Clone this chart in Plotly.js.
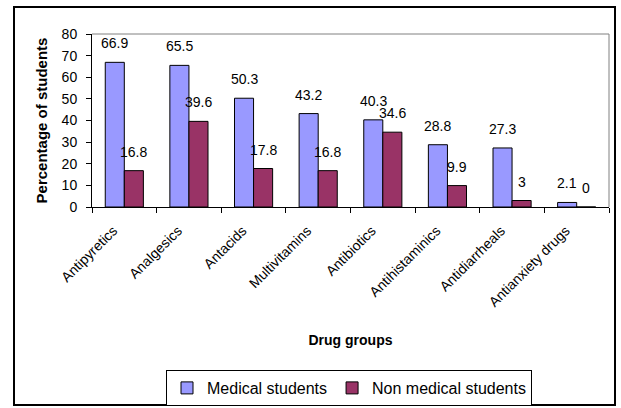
<!DOCTYPE html>
<html>
<head>
<meta charset="utf-8">
<script src="https://cdn.plot.ly/plotly-3.0.1.min.js"></script>
<style>
  html, body { margin: 0; padding: 0; background: #ffffff; }
  #chart { width: 621px; height: 408px; }
</style>
</head>
<body>
<div id="chart"></div>
<script>
// Self-medication by drug group, percentage of students
const drugGroups = ['Antipyretics', 'Analgesics', 'Antacids', 'Multivitamins',
                    'Antibiotics', 'Antihistaminics', 'Antidiarrheals', 'Antianxiety drugs'];
const medicalStudents = [66.9, 65.5, 50.3, 43.2, 40.3, 28.8, 27.3, 2.1];
const nonMedicalStudents = [16.8, 39.6, 17.8, 16.8, 34.6, 9.9, 3, 0];
const seriesNames = ['Medical students', 'Non medical students'];
const yTicks = [0, 10, 20, 30, 40, 50, 60, 70, 80];

const FONT = '"Liberation Sans", Arial, sans-serif';
const BLUE = '#9999FF';
const MAROON = '#993366';

// Plot area geometry (pixels)
const W = 621, H = 408;
const M = { l: 92, r: 12, t: 34, b: 201, autoexpand: false };
const plotW = W - M.l - M.r;
const plotH = H - M.t - M.b;
const px2x = p => (p - M.l) / plotW;
const px2y = p => (H - M.b - p) / plotH;

const bargap = 0.41;
const barPx = plotW / drugGroups.length * (1 - bargap) / 2;

const traces = [
  {
    type: 'bar', name: seriesNames[0], x: drugGroups, y: medicalStudents,
    marker: { color: BLUE, line: { color: '#000000', width: 1 } },
    hoverinfo: 'x+y'
  },
  {
    type: 'bar', name: seriesNames[1], x: drugGroups, y: nonMedicalStudents,
    marker: { color: MAROON, line: { color: '#000000', width: 1 } },
    hoverinfo: 'x+y'
  }
];

// Value labels above each bar
const annotations = [];
[medicalStudents, nonMedicalStudents].forEach((vals, s) => {
  vals.forEach((v, i) => {
    annotations.push({
      x: drugGroups[i], y: v, xref: 'x', yref: 'y',
      text: String(v), showarrow: false,
      xanchor: 'center', yanchor: 'bottom',
      xshift: (s === 0 ? -1 : 1) * barPx / 2,
      yshift: 9,
      font: { family: FONT, size: 14, color: '#000000' }
    });
  });
});

const shapes = [
  // grey frame on top and right of the plot area
  { type: 'line', xref: 'paper', yref: 'paper', x0: 0, x1: 1, y0: 1, y1: 1,
    line: { color: '#808080', width: 1 } },
  { type: 'line', xref: 'paper', yref: 'paper', x0: 1, x1: 1, y0: 0, y1: 1,
    line: { color: '#808080', width: 1 } },
  // outer chart border
  { type: 'rect', xref: 'paper', yref: 'paper',
    x0: px2x(14), x1: px2x(615), y0: px2y(405), y1: px2y(7),
    line: { color: '#000000', width: 2 }, fillcolor: 'rgba(0,0,0,0)' }
];

const layout = {
  width: W, height: H,
  margin: M,
  paper_bgcolor: '#ffffff', plot_bgcolor: '#ffffff',
  font: { family: FONT, size: 14, color: '#000000' },
  barmode: 'group', bargap: bargap, bargroupgap: 0,
  showlegend: true,
  legend: {
    orientation: 'h', x: px2x(349), xanchor: 'center', y: px2y(370), yanchor: 'top',
    bordercolor: '#000000', borderwidth: 1, bgcolor: '#ffffff',
    font: { family: FONT, size: 16, color: '#000000' },
    itemwidth: 30, traceorder: 'normal'
  },
  xaxis: {
    type: 'category', range: [-0.5, drugGroups.length - 0.5],
    tickson: 'boundaries', ticks: 'outside', ticklen: 5, tickcolor: '#000000',
    showline: true, linecolor: '#000000', linewidth: 1,
    showgrid: false, zeroline: false,
    tickangle: -45, ticklabelshift: -11, ticklabelstandoff: 9,
    tickfont: { family: FONT, size: 14, color: '#000000' },
    automargin: false,
    title: { text: '<b>Drug groups</b>', standoff: 26,
             font: { family: FONT, size: 14, color: '#000000' } }
  },
  yaxis: {
    range: [0, 80], tickvals: yTicks, ticktext: yTicks.map(String),
    ticks: 'outside', ticklen: 5, tickcolor: '#000000',
    showline: true, linecolor: '#000000', linewidth: 1,
    showgrid: false, zeroline: false,
    ticklabelstandoff: 6,
    tickfont: { family: FONT, size: 14, color: '#000000' },
    automargin: false,
    title: { text: '<b>Percentage of students</b>', standoff: 10,
             font: { family: FONT, size: 15, color: '#000000' } }
  },
  annotations: annotations,
  shapes: shapes
};

Plotly.newPlot('chart', traces, layout, { displayModeBar: false, staticPlot: true });
</script>
</body>
</html>
